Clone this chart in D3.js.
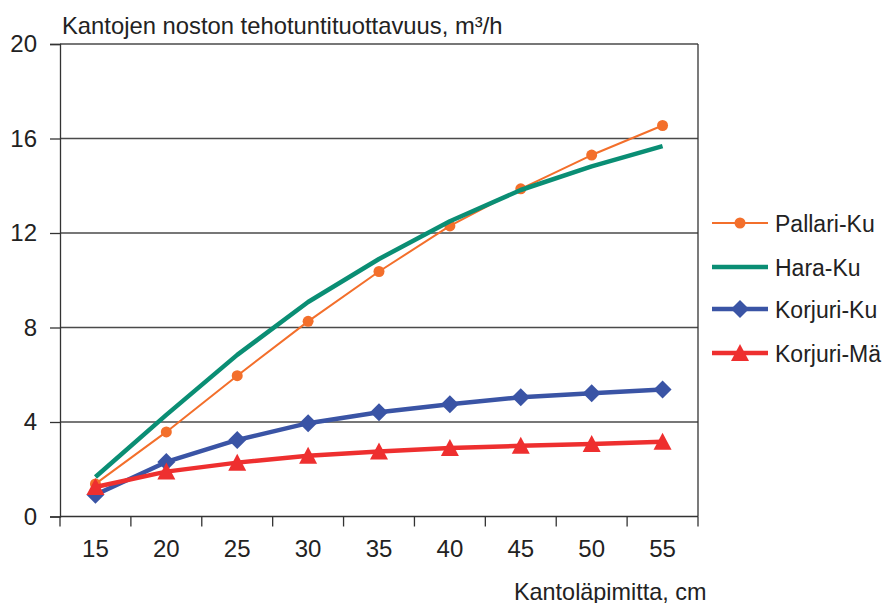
<!DOCTYPE html>
<html>
<head>
<meta charset="utf-8">
<script src="https://cdn.jsdelivr.net/npm/d3@7"></script>
<style>
  html, body { margin: 0; padding: 0; background: #fff; }
  svg { display: block; font-family: "Liberation Sans", Arial, sans-serif; }
</style>
</head>
<body>
<svg id="chart" width="882" height="603"></svg>
<script>
// Stump diameter classes (cm)
const diameters = ["15", "20", "25", "30", "35", "40", "45", "50", "55"];
const yTicks = [0, 4, 8, 12, 16, 20];

// Productivity per effective hour, m³/h
const pallariKu = [1.38, 3.58, 5.96, 8.26, 10.37, 12.3, 13.87, 15.3, 16.55];
const haraKu    = [1.67, 4.3, 6.84, 9.08, 10.9, 12.5, 13.82, 14.82, 15.68];
const korjuriKu = [0.92, 2.31, 3.24, 3.95, 4.41, 4.75, 5.05, 5.22, 5.38];
const korjuriMa = [1.25, 1.9, 2.28, 2.57, 2.75, 2.9, 2.99, 3.07, 3.16];

const seriesNames = ["Pallari-Ku", "Hara-Ku", "Korjuri-Ku", "Korjuri-Mä"];
const seriesValues = [pallariKu, haraKu, korjuriKu, korjuriMa];
const seriesColors = ["#f36f2b", "#0a8e74", "#3a54a5", "#ee2f2f"];
const seriesWidths = [2, 4.5, 4.5, 4.5];
const seriesMarkers = ["circle", null, "diamond", "triangle"];

const svg = d3.select("#chart");
const plotLeft = 60, plotRight = 698, plotTop = 44, plotBottom = 516.5;

const x = d3.scaleBand().domain(diameters).range([plotLeft, plotRight]);
const y = d3.scaleLinear().domain([0, 20]).range([plotBottom, plotTop]);

// Horizontal gridlines
svg.append("g")
  .selectAll("line")
  .data(yTicks.filter(d => d > 0))
  .join("line")
  .attr("x1", plotLeft).attr("x2", plotRight)
  .attr("y1", d => y(d)).attr("y2", d => y(d))
  .attr("stroke", "#4a4a4a").attr("stroke-width", 1.3);

// Right border of the plot area
svg.append("line")
  .attr("x1", plotRight).attr("x2", plotRight)
  .attr("y1", plotTop).attr("y2", plotBottom)
  .attr("stroke", "#333").attr("stroke-width", 1.3);

// Y axis
const yAxis = svg.append("g")
  .attr("transform", `translate(${plotLeft},0)`)
  .call(d3.axisLeft(y).tickValues(yTicks).tickSize(10).tickPadding(13));
yAxis.select(".domain").attr("stroke", "#333").attr("stroke-width", 1.3);
yAxis.selectAll(".tick line").attr("stroke", "#333").attr("stroke-width", 1.3);
yAxis.selectAll(".tick text")
  .attr("font-size", 24).attr("fill", "#222")
  .attr("font-family", "Liberation Sans, Arial, sans-serif");

// X axis: ticks sit on the category boundaries
const xAxisG = svg.append("g").attr("transform", `translate(0,${plotBottom})`);
xAxisG.append("line")
  .attr("x1", plotLeft).attr("x2", plotRight)
  .attr("stroke", "#333").attr("stroke-width", 1.3);
const boundaries = diameters.map(d => x(d)).concat([x(diameters[diameters.length - 1]) + x.bandwidth()]);
xAxisG.selectAll("line.tk")
  .data(boundaries)
  .join("line")
  .attr("class", "tk")
  .attr("x1", d => d).attr("x2", d => d)
  .attr("y1", 0).attr("y2", 10)
  .attr("stroke", "#333").attr("stroke-width", 1.3);
xAxisG.selectAll("text")
  .data(diameters)
  .join("text")
  .attr("x", d => x(d) + x.bandwidth() / 2)
  .attr("y", 40)
  .attr("text-anchor", "middle")
  .attr("font-size", 24).attr("fill", "#222")
  .text(d => d);

// Titles
svg.append("text")
  .attr("x", 62).attr("y", 33.5)
  .attr("font-size", 23.8).attr("fill", "#222")
  .text("Kantojen noston tehotuntituottavuus, m³/h");
svg.append("text")
  .attr("x", 514).attr("y", 600)
  .attr("font-size", 23.4).attr("fill", "#222")
  .text("Kantoläpimitta, cm");

// Marker shapes: circle, square diamond, triangle
const circleSym = d3.symbol().type(d3.symbolCircle).size(95)();
const diamondPath = "M0,-9L9,0L0,9L-9,0Z";
const trianglePath = "M0,-9L9,8L-9,8Z";
const markerPath = { circle: circleSym, diamond: diamondPath, triangle: trianglePath };

const cx = (i) => x(diameters[i]) + x.bandwidth() / 2;
const line = d3.line().x((d, i) => cx(i)).y(d => y(d));

seriesValues.forEach((vals, s) => {
  const g = svg.append("g");
  g.append("path")
    .datum(vals)
    .attr("d", line)
    .attr("fill", "none")
    .attr("stroke", seriesColors[s])
    .attr("stroke-width", seriesWidths[s])
    .attr("stroke-linejoin", "round");
  const m = seriesMarkers[s];
  if (m) {
    g.selectAll("path.mk")
      .data(vals)
      .join("path")
      .attr("class", "mk")
      .attr("transform", (d, i) => `translate(${cx(i)},${y(d)})`)
      .attr("d", markerPath[m])
      .attr("fill", seriesColors[s]);
  }
});

// Legend
const legendRows = [223, 267, 309, 353];
seriesNames.forEach((name, s) => {
  const g = svg.append("g").attr("transform", `translate(0,${legendRows[s]})`);
  g.append("line")
    .attr("x1", 712).attr("x2", 768)
    .attr("stroke", seriesColors[s])
    .attr("stroke-width", seriesWidths[s]);
  const m = seriesMarkers[s];
  if (m) {
    g.append("path")
      .attr("transform", "translate(740,0)")
      .attr("d", markerPath[m])
      .attr("fill", seriesColors[s]);
  }
  g.append("text")
    .attr("x", 775).attr("y", 8.5)
    .attr("font-size", 23).attr("fill", "#222")
    .text(name);
});
</script>
</body>
</html>
